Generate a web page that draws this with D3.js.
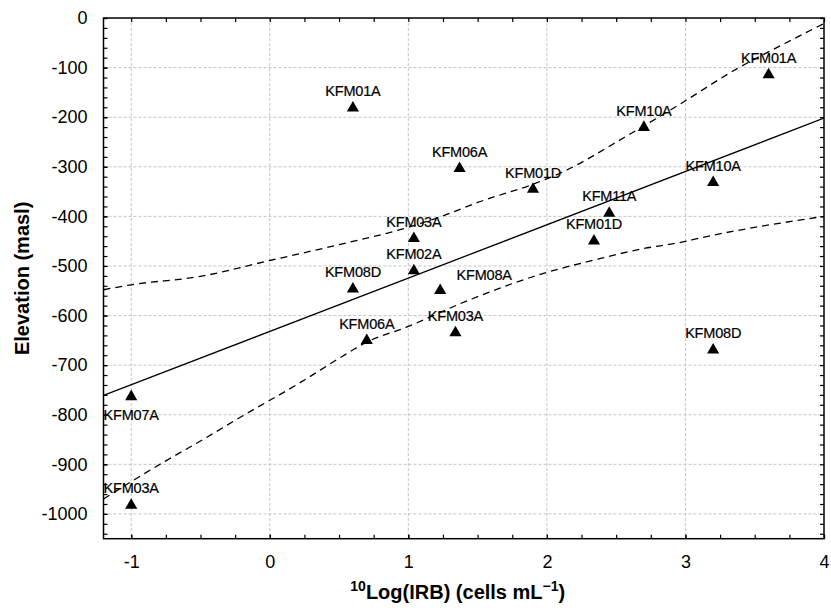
<!DOCTYPE html>
<html>
<head>
<meta charset="utf-8">
<script src="https://cdn.jsdelivr.net/npm/d3@7"></script>
<style>
  html, body { margin: 0; padding: 0; background: #fff; }
  svg { display: block; font-family: "Liberation Sans", Arial, sans-serif; }
</style>
</head>
<body>
<svg id="chart" width="831" height="614"></svg>
<script>
// ---- data ----
const pointNames = ["KFM01A","KFM06A","KFM01D","KFM10A","KFM01A","KFM10A","KFM11A","KFM01D","KFM03A","KFM02A","KFM08D","KFM08A","KFM06A","KFM03A","KFM08D","KFM07A","KFM03A"];
const pointX = [0.6, 1.37, 1.9, 2.7, 3.6, 3.2, 2.45, 2.34, 1.04, 1.04, 0.6, 1.23, 0.7, 1.34, 3.2, -1.0, -1.0];
const pointY = [-178, -300, -342, -217, -111, -328, -390, -446, -441, -506, -543, -546, -647, -631, -666, -760, -979];

const fitX = [-1.2, 4.0];
const fitY = [-761, -202];

const upperX = [-1.2, -1.0, -0.5, 0.0, 0.5, 1.0, 1.25, 1.5, 1.92, 2.11, 2.57, 2.93, 3.38, 3.72, 4.0];
const upperY = [-548, -538, -521, -489, -457, -422, -399, -372, -333, -311, -239, -179, -101, -51, -11];
const lowerX = [-1.2, -1.0, -0.75, -0.5, -0.2, 0.215, 0.525, 0.69, 1.0, 1.41, 1.94, 2.37, 2.66, 2.99, 3.1, 4.0];
const lowerY = [-970, -935, -893, -853, -803, -736, -682, -655, -622, -572, -518, -486, -467, -451, -444, -400];

const xTicks = [-1, 0, 1, 2, 3, 4];
const yTicks = [0, -100, -200, -300, -400, -500, -600, -700, -800, -900, -1000];
const xDomain = [-1.2, 4];
const yDomain = [-1050, 0];

// ---- layout ----
const svg = d3.select("#chart");
const L = 103.5, R = 824, T = 18, B = 538.7;
const x = d3.scaleLinear().domain(xDomain).range([L, R]);
const y = d3.scaleLinear().domain(yDomain).range([B, T]);

// label placement (style): below the marker for index 15, shifted right for index 11
const labelBelowIdx = [15];
const labelShift = { 11: 44 };

const xMinorTicks = d3.range(-5, 17).map(i => i * 0.25).filter(v => v >= xDomain[0] - 1e-9 && v <= xDomain[1] + 1e-9);
const yMinorTicks = d3.range(0, 53).map(i => -i * 20).filter(v => v >= yDomain[0]);

// gridlines
const grid = svg.append("g").attr("stroke", "#c4c4c4").attr("stroke-width", 1).attr("stroke-dasharray", "3,2");
grid.selectAll("line.gx").data(xTicks.filter(v => v > xDomain[0] && v < xDomain[1])).join("line")
  .attr("x1", d => x(d)).attr("x2", d => x(d)).attr("y1", T).attr("y2", B);
grid.selectAll("line.gy").data(yTicks.filter(v => v > yDomain[0] && v < yDomain[1])).join("line")
  .attr("x1", L).attr("x2", R).attr("y1", d => y(d)).attr("y2", d => y(d));

// axes (ticks inward on all sides)
function styleAxis(g) {
  g.select(".domain").remove();
  g.selectAll(".tick line").attr("stroke", "#000").attr("stroke-width", 1.2);
}
const fmt = d => String(d);
svg.append("g").attr("transform", `translate(${L},0)`)
  .call(d3.axisLeft(y).tickValues(yMinorTicks).tickSize(-4).tickFormat(""))
  .call(styleAxis);
svg.append("g").attr("transform", `translate(${L},0)`)
  .call(d3.axisLeft(y).tickValues(yTicks).tickSize(-4).tickPadding(16).tickFormat(fmt))
  .call(styleAxis)
  .selectAll("text").attr("font-size", 18).attr("fill", "#000").attr("font-family", "Liberation Sans, Arial, sans-serif");
svg.append("g").attr("transform", `translate(${R},0)`)
  .call(d3.axisRight(y).tickValues(yMinorTicks).tickSize(-4).tickFormat(""))
  .call(styleAxis);
svg.append("g").attr("transform", `translate(0,${B})`)
  .call(d3.axisBottom(x).tickValues(xMinorTicks).tickSize(-4).tickFormat(""))
  .call(styleAxis);
svg.append("g").attr("transform", `translate(0,${B})`)
  .call(d3.axisBottom(x).tickValues(xTicks).tickSize(-4).tickPadding(17).tickFormat(fmt))
  .call(styleAxis)
  .selectAll("text").attr("font-size", 18).attr("fill", "#000").attr("font-family", "Liberation Sans, Arial, sans-serif");
svg.append("g").attr("transform", `translate(0,${T})`)
  .call(d3.axisTop(x).tickValues(xMinorTicks).tickSize(-4).tickFormat(""))
  .call(styleAxis);

// clip
svg.append("clipPath").attr("id", "plotclip").append("rect")
  .attr("x", L).attr("y", T).attr("width", R - L).attr("height", B - T);
const plot = svg.append("g").attr("clip-path", "url(#plotclip)");

// confidence bands
const lineGen = d3.line().x(d => x(d[0])).y(d => y(d[1])).curve(d3.curveMonotoneX);
plot.append("path").datum(d3.zip(upperX, upperY))
  .attr("d", lineGen).attr("fill", "none").attr("stroke", "#000").attr("stroke-width", 1.3).attr("stroke-dasharray", "7,5");
plot.append("path").datum(d3.zip(lowerX, lowerY))
  .attr("d", lineGen).attr("fill", "none").attr("stroke", "#000").attr("stroke-width", 1.3).attr("stroke-dasharray", "7,5");
// regression line
plot.append("path").datum(d3.zip(fitX, fitY))
  .attr("d", d3.line().x(d => x(d[0])).y(d => y(d[1])))
  .attr("fill", "none").attr("stroke", "#000").attr("stroke-width", 1.3);

// frame
svg.append("rect").attr("x", L).attr("y", T).attr("width", R - L).attr("height", B - T)
  .attr("fill", "none").attr("stroke", "#000").attr("stroke-width", 1.5);

// points
const pts = pointNames.map((n, i) => ({ i, name: n, x: pointX[i], y: pointY[i] }));
const triSize = 64;
const triH = Math.sqrt(triSize / (Math.sqrt(3) * 3)); // |y| of d3 triangle
svg.append("g").selectAll("path").data(pts).join("path")
  .attr("d", d3.symbol().type(d3.symbolTriangle).size(triSize))
  .attr("transform", d => `translate(${x(d.x)},${y(d.y) + triH / 2})`)
  .attr("fill", "#000");

// labels
svg.append("g").selectAll("text").data(pts).join("text")
  .attr("x", d => x(d.x) + (labelShift[d.i] || 0))
  .attr("y", d => labelBelowIdx.includes(d.i) ? y(d.y) + 25 : y(d.y) - (labelShift[d.i] ? 9 : 10))
  .attr("text-anchor", "middle")
  .attr("font-size", 14.5)
  .attr("letter-spacing", "-0.2")
  .attr("fill", "#000")
  .attr("stroke", "#000").attr("stroke-width", 0.2)
  .text(d => d.name);

// axis titles
svg.append("text")
  .attr("transform", `translate(29,${(T + B) / 2}) rotate(-90)`)
  .attr("text-anchor", "middle")
  .attr("font-size", 20).attr("font-weight", "bold")
  .text("Elevation (masl)");

const xt = svg.append("text")
  .attr("x", (L + R) / 2 - 6).attr("y", 599)
  .attr("text-anchor", "middle")
  .attr("font-size", 20).attr("font-weight", "bold");
xt.append("tspan").attr("font-size", 14).attr("dy", -8).text("10");
xt.append("tspan").attr("dy", 8).text("Log(IRB) (cells mL");
xt.append("tspan").attr("font-size", 14).attr("dy", -8).text("\u22121");
xt.append("tspan").attr("dy", 8).text(")");
</script>
</body>
</html>
